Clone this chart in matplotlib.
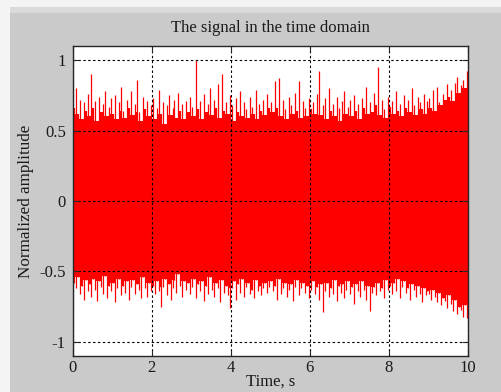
"""
Time-domain view of the normalized signal (min/max per 50 ms bin).
"""
import numpy as np
import matplotlib.pyplot as plt
from matplotlib.patches import Rectangle

plt.rcParams['font.family'] = ['Liberation Serif', 'DejaVu Serif']
plt.rcParams['font.size'] = 12

# Signal duration and bin width, s
duration = 10.0
bin_width = 0.05

# Per-bin maximum of the normalized signal (200 bins, 0..10 s)
peak_hi = [
    0.66, 0.80, 0.62, 0.72, 0.58, 0.70, 0.64, 0.76, 0.60, 0.90, 0.66, 0.71, 0.57, 0.74, 0.63, 0.69, 0.78, 0.60, 0.67, 0.73,
    0.62, 0.75, 0.58, 0.70, 0.81, 0.64, 0.59, 0.72, 0.66, 0.78, 0.61, 0.69, 0.86, 0.63, 0.57, 0.74, 0.65, 0.71, 0.60, 0.68,
    0.73, 0.58, 0.66, 0.79, 0.62, 0.70, 0.55, 0.68, 0.75, 0.61, 0.66, 0.72, 0.59, 0.77, 0.64, 0.69, 0.58, 0.71, 0.63, 0.74,
    0.67, 0.60, 1.00, 0.65, 0.71, 0.58, 0.76, 0.63, 0.69, 0.80, 0.61, 0.72, 0.66, 0.83, 0.59, 0.90, 0.64, 0.70, 0.62, 0.75,
    0.68, 0.57, 0.73, 0.63, 0.78, 0.60, 0.70, 0.65, 0.59, 0.74, 0.67, 0.62, 0.79, 0.58, 0.69, 0.64, 0.72, 0.61, 0.76, 0.66,
    0.70, 0.63, 0.85, 0.66, 0.87, 0.60, 0.72, 0.65, 0.58, 0.74, 0.68, 0.62, 0.77, 0.64, 0.85, 0.59, 0.71, 0.66, 0.60, 0.73,
    0.65, 0.70, 0.62, 0.76, 0.92, 0.61, 0.68, 0.73, 0.58, 0.80, 0.64, 0.69, 0.60, 0.74, 0.66, 0.57, 0.71, 0.78, 0.62, 0.67,
    0.72, 0.60, 0.75, 0.64, 0.69, 0.58, 0.73, 0.66, 0.81, 0.62, 0.70, 0.63, 0.77, 0.68, 0.95, 0.61, 0.72, 0.65, 0.59, 0.74,
    0.67, 0.71, 0.62, 0.78, 0.64, 0.69, 0.60, 0.75, 0.66, 0.72, 0.63, 0.80, 0.68, 0.61, 0.74, 0.70, 0.65, 0.76, 0.62, 0.71,
    0.73, 0.66, 0.79, 0.64, 0.81, 0.70, 0.68, 0.76, 0.72, 0.83, 0.74, 0.79, 0.71, 0.84, 0.88, 0.77, 0.82, 0.86, 0.80, 0.92,
]

# Per-bin minimum of the normalized signal
peak_lo = [
    -0.58, -0.62, -0.54, -0.66, -0.60, -0.70, -0.56, -0.64, -0.59, -0.68, -0.55, -0.63, -0.71, -0.57, -0.61, -0.66, -0.53, -0.69, -0.60, -0.64,
    -0.58, -0.72, -0.62, -0.55, -0.67, -0.60, -0.65, -0.57, -0.70, -0.61, -0.56, -0.66, -0.59, -0.63, -0.69, -0.54, -0.62, -0.68, -0.58, -0.64,
    -0.60, -0.66, -0.57, -0.64, -0.75, -0.61, -0.55, -0.67, -0.59, -0.70, -0.62, -0.56, -0.65, -0.52, -0.60, -0.68, -0.57, -0.63, -0.58, -0.66,
    -0.61, -0.55, -0.69, -0.59, -0.64, -0.57, -0.71, -0.60, -0.66, -0.54, -0.63, -0.68, -0.58, -0.62, -0.72, -0.56, -0.65, -0.60, -0.67, -0.76,
    -0.62, -0.57, -0.70, -0.59, -0.65, -0.55, -0.68, -0.61, -0.58, -0.66, -0.63, -0.69, -0.56, -0.64, -0.60, -0.67, -0.62, -0.58, -0.65, -0.61,
    -0.57, -0.64, -0.60, -0.70, -0.55, -0.66, -0.62, -0.58, -0.68, -0.63, -0.59, -0.71, -0.61, -0.56, -0.67, -0.62, -0.58, -0.65, -0.60, -0.69,
    -0.63, -0.57, -0.66, -0.61, -0.70, -0.59, -0.79, -0.64, -0.58, -0.68, -0.62, -0.66, -0.56, -0.71, -0.60, -0.65, -0.59, -0.69, -0.63, -0.57,
    -0.66, -0.61, -0.73, -0.59, -0.64, -0.68, -0.57, -0.63, -0.70, -0.60, -0.78, -0.65, -0.61, -0.67, -0.58, -0.64, -0.62, -0.69, -0.56, -0.63,
    -0.60, -0.66, -0.58, -0.64, -0.55, -0.69, -0.61, -0.57, -0.65, -0.62, -0.70, -0.59, -0.63, -0.68, -0.60, -0.66, -0.72, -0.62, -0.67, -0.64,
    -0.66, -0.70, -0.63, -0.68, -0.72, -0.65, -0.74, -0.69, -0.71, -0.76, -0.67, -0.73, -0.78, -0.70, -0.80, -0.75, -0.77, -0.82, -0.74, -0.83,
]

x_ticks = [0, 2, 4, 6, 8, 10]
y_ticks = [-1, -0.5, 0, 0.5, 1]
y_tick_labels = ['-1', '-0.5', '0', '0.5', '1']

W, H = 501, 392
fig = plt.figure(figsize=(W / 100, H / 100), dpi=100, facecolor='#cacaca')

# window chrome: toolbar strip on top, light border on the left
fig.add_artist(Rectangle((0, 1 - 7 / H), 1, 7 / H, transform=fig.transFigure,
                         facecolor='#f4f4f4', edgecolor='none', zorder=0))
fig.add_artist(Rectangle((0, 1 - 13 / H), 1, 6 / H, transform=fig.transFigure,
                         facecolor='#dadada', edgecolor='none', zorder=0))
fig.add_artist(Rectangle((0, 0), 10 / W, 1 - 7 / H, transform=fig.transFigure,
                         facecolor='#f4f4f4', edgecolor='none', zorder=0))

ax = fig.add_axes([72.7 / W, 1 - 356 / H, (468 - 72.7) / W, (356 - 46) / H])
ax.set_facecolor('white')

hi = np.asarray(peak_hi)
lo = np.asarray(peak_lo)
centers = (np.arange(len(hi)) + 0.5) * bin_width

# solid body: the lower of neighbouring peaks, so every peak stands out as a thin spike
pad_hi = np.concatenate(([hi[0]], hi, [hi[-1]]))
pad_lo = np.concatenate(([lo[0]], lo, [lo[-1]]))
body_hi = np.minimum(np.minimum(pad_hi[:-2], pad_hi[1:-1]), pad_hi[2:])
body_lo = np.maximum(np.maximum(pad_lo[:-2], pad_lo[1:-1]), pad_lo[2:])
edges = np.arange(len(hi) + 1) * bin_width
ax.fill_between(edges, np.append(body_lo, body_lo[-1]), np.append(body_hi, body_hi[-1]),
                step='post', color='red', linewidth=0, zorder=2)
ax.vlines(centers, lo, hi, color='red', linewidth=0.9, zorder=2)

ax.set_xlim(0, duration)
ax.set_ylim(-1.1, 1.1)
ax.set_xticks(x_ticks)
ax.set_yticks(y_ticks)
ax.set_yticklabels(y_tick_labels)

ax.grid(True, color='black', linestyle=(0, (2.2, 2.2)), linewidth=0.8, zorder=3)
ax.set_axisbelow(False)
ax.tick_params(direction='in', length=4, width=0.8, top=True, right=True,
               colors='#262626', labelcolor='#1a1a1a', pad=5)
ax.tick_params(axis='x', pad=3)
for spine in ax.spines.values():
    spine.set_linewidth(1.0)
    spine.set_color('#262626')
    spine.set_zorder(4)

ax.set_title('The signal in the time domain', color='#1a1a1a', fontsize=12, pad=10)
ax.set_xlabel('Time, s', color='#1a1a1a', labelpad=-1.5)
ax.set_ylabel('Normalized amplitude', color='#1a1a1a', fontsize=12.3, labelpad=4)

fig.savefig('out.png', dpi=100, facecolor=fig.get_facecolor())
